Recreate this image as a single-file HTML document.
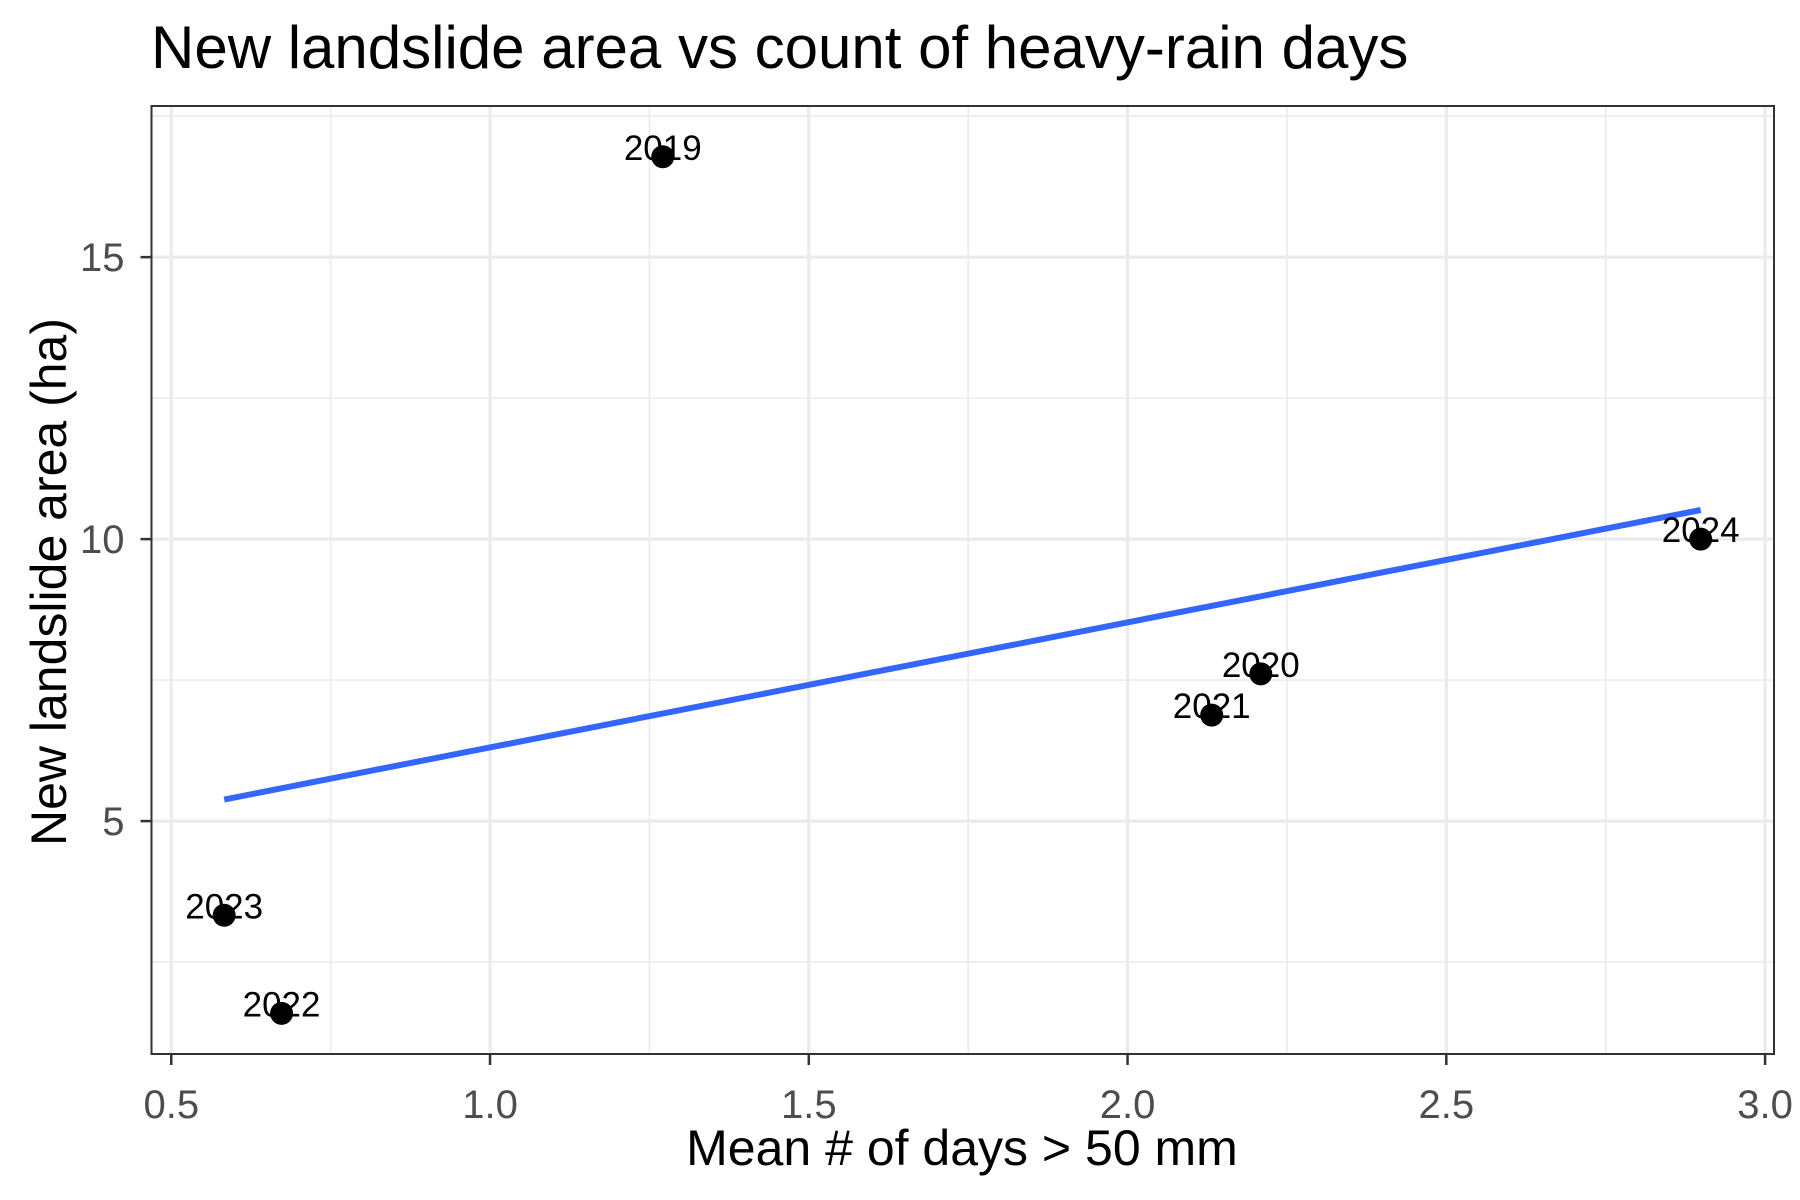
<!DOCTYPE html>
<html><head><meta charset="utf-8"><style>
html,body{margin:0;padding:0;background:#fff}
svg{display:block;font-family:"Liberation Sans",Arial,sans-serif}
</style></head><body>
<svg id="chart" width="1800" height="1200" viewBox="0 0 1800 1200">
<text x="151" y="68" font-size="60" fill="#000">New landslide area vs count of heavy-rain days</text>
<g id="grid"></g>
<g id="marks"></g>
<g id="axes"></g>
<text x="962" y="1165" font-size="50" text-anchor="middle" fill="#000">Mean # of days &gt; 50 mm</text>
<text transform="translate(66,582) rotate(-90)" font-size="50" text-anchor="middle" fill="#000">New landslide area (ha)</text>
</svg>
<script>
const years = ["2019","2020","2021","2022","2023","2024"];
const xVals = [1.271, 2.209, 2.132, 0.673, 0.583, 2.899];
const yVals = [16.78, 7.61, 6.88, 1.59, 3.33, 10.0];
const xTicks = [0.5, 1.0, 1.5, 2.0, 2.5, 3.0];
const xTickLabels = ["0.5","1.0","1.5","2.0","2.5","3.0"];
const yTicks = [5, 10, 15];
const yTickLabels = ["5","10","15"];
const xMinor = [0.75, 1.25, 1.75, 2.25, 2.75];
const yMinor = [2.5, 7.5, 12.5, 17.5];

const L=151.5, R=1774, T=106, B=1054;
const xDom=[0.469,3.014], yDom=[0.87,17.68];
const sx=v=>L+(v-xDom[0])/(xDom[1]-xDom[0])*(R-L);
const sy=v=>B-(v-yDom[0])/(yDom[1]-yDom[0])*(B-T);
const NS="http://www.w3.org/2000/svg";
function mk(tag,attrs,parent){const e=document.createElementNS(NS,tag);for(const k in attrs)e.setAttribute(k,attrs[k]);parent.appendChild(e);return e;}
const grid=document.getElementById('grid'), marks=document.getElementById('marks'), axes=document.getElementById('axes');

let bg=mk('rect',{x:L,y:T,width:R-L,height:B-T,fill:'#fff'},grid);


xMinor.forEach(v=>{const l=mk('line',{x1:sx(v),x2:sx(v),y1:T,y2:B,stroke:'#ebebeb','stroke-width':1.6},grid);

});
yMinor.forEach(v=>{if(v>yDom[1])return;const l=mk('line',{x1:L,x2:R,y1:sy(v),y2:sy(v),stroke:'#ebebeb','stroke-width':1.6},grid);

});
xTicks.forEach(v=>{const l=mk('line',{x1:sx(v),x2:sx(v),y1:T,y2:B,stroke:'#ebebeb','stroke-width':3.2},grid);

});
yTicks.forEach(v=>{const l=mk('line',{x1:L,x2:R,y1:sy(v),y2:sy(v),stroke:'#ebebeb','stroke-width':3.2},grid);

});

const n=xVals.length, mx=xVals.reduce((a,b)=>a+b)/n, my=yVals.reduce((a,b)=>a+b)/n;
let sxy=0,sxx=0;for(let i=0;i<n;i++){sxy+=(xVals[i]-mx)*(yVals[i]-my);sxx+=(xVals[i]-mx)**2;}
const slope=sxy/sxx, icpt=my-slope*mx;
const x0=Math.min(...xVals), x1=Math.max(...xVals);
const fit=mk('line',{x1:sx(x0),y1:sy(icpt+slope*x0),x2:sx(x1),y2:sy(icpt+slope*x1),stroke:'#3366ff','stroke-width':6},marks);



for(let i=0;i<n;i++){
  const c=mk('circle',{cx:sx(xVals[i]),cy:sy(yVals[i]),r:11.5,fill:'#000'},marks);
  
  
  const t=mk('text',{x:sx(xVals[i]),y:sy(yVals[i])+3,'font-size':35,'text-anchor':'middle',fill:'#000'},marks);
  t.textContent=years[i];
  
  
}

const border=mk('rect',{x:L,y:T,width:R-L,height:B-T,fill:'none',stroke:'#333','stroke-width':2},axes);


xTicks.forEach((v,i)=>{
  const tk=mk('line',{x1:sx(v),x2:sx(v),y1:B,y2:B+11,stroke:'#333','stroke-width':2.5},axes);
  
  
  const t=mk('text',{x:sx(v),y:1118,'font-size':40,'text-anchor':'middle',fill:'#4d4d4d'},axes);
  t.textContent=xTickLabels[i];
  
  
});
yTicks.forEach((v,i)=>{
  const tk=mk('line',{x1:L-11,x2:L,y1:sy(v),y2:sy(v),stroke:'#333','stroke-width':2.5},axes);
  
  
  const t=mk('text',{x:L-27,y:sy(v)+14,'font-size':40,'text-anchor':'end',fill:'#4d4d4d'},axes);
  t.textContent=yTickLabels[i];
  
  
});
</script>
</body></html>
